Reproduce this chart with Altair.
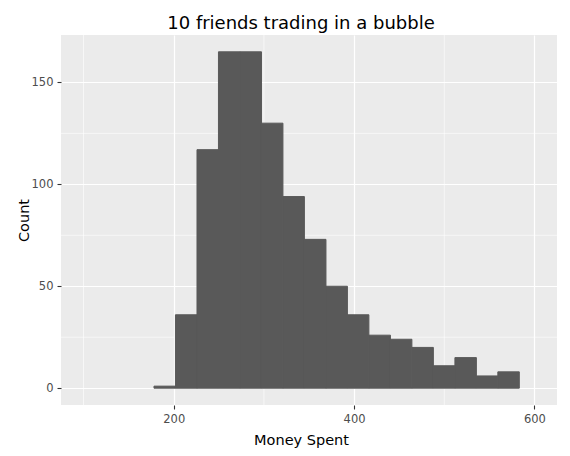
import altair as alt
import pandas as pd

# Histogram bins
bin_edges = [178.1, 201.9, 225.8, 249.6, 273.4, 297.3, 321.1, 344.9, 368.8,
             392.6, 416.4, 440.3, 464.1, 487.9, 511.8, 535.6, 559.4, 583.2]
counts = [1, 36, 117, 165, 165, 130, 94, 73, 50, 36, 26, 24, 20, 11, 15, 6, 8]

x_major = [200, 400, 600]
x_minor = [100, 300, 500]
y_major = [0, 50, 100, 150]
y_minor = [25, 75, 125]

bars = pd.DataFrame({
    "start": bin_edges[:-1],
    "end": bin_edges[1:],
    "count": counts,
})

FONT = "DejaVu Sans"
x_scale = alt.Scale(domain=[75, 625], nice=False, zero=False)
y_scale = alt.Scale(domain=[-8.25, 173.25], nice=False, zero=False)

minor_x = alt.Chart(pd.DataFrame({"v": x_minor})).mark_rule(
    color="white", strokeWidth=0.6
).encode(x=alt.X("v:Q", scale=x_scale))

minor_y = alt.Chart(pd.DataFrame({"v": y_minor})).mark_rule(
    color="white", strokeWidth=0.6
).encode(y=alt.Y("v:Q", scale=y_scale))

hist = alt.Chart(bars).mark_rect(
    color="#595959", stroke="#595959", strokeWidth=1
).encode(
    x=alt.X(
        "start:Q",
        scale=x_scale,
        axis=alt.Axis(
            values=x_major, title="Money Spent", grid=True,
            titleX=240, titleY=39, titleBaseline="alphabetic",
        ),
    ),
    x2="end:Q",
    y=alt.Y(
        "count:Q",
        scale=y_scale,
        axis=alt.Axis(
            values=y_major, title="Count", grid=True,
            titleX=-33, titleY=185, titleBaseline="alphabetic",
            titleAlign="center",
        ),
    ),
    y2=alt.datum(0),
)

chart = alt.layer(minor_x, minor_y, hist).properties(
    width=496,
    height=370,
    padding={"left": 53, "top": 27, "right": 5, "bottom": 43},
    autosize=alt.AutoSizeParams(type="none"),
    background="white",
    title=alt.TitleParams(
        "10 friends trading in a bubble",
        anchor="middle", dx=-8, dy=22, fontSize=18, font=FONT,
        fontWeight="normal", color="black", baseline="alphabetic", offset=10,
    ),
).configure_view(
    fill="#EBEBEB", stroke=None
).configure_axis(
    domain=False,
    gridColor="white",
    gridWidth=1.2,
    tickColor="#333333",
    tickSize=4,
    tickWidth=1.1,
    labelColor="#4D4D4D",
    labelFont=FONT,
    labelFontSize=11.5,
    labelPadding=4,
    titleFont=FONT,
    titleFontSize=14.5,
    titleFontWeight="normal",
    titleColor="black",
)

chart.save("out.html", embed_options={"renderer": "svg", "actions": False})
